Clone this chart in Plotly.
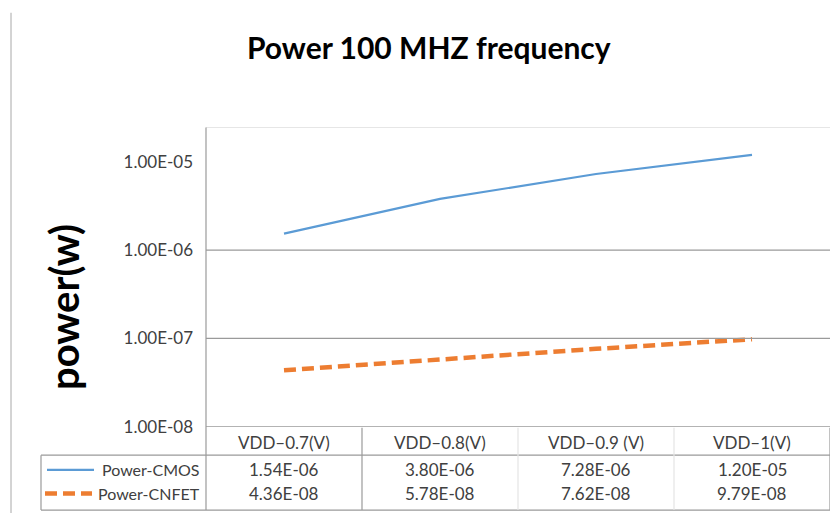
import plotly.graph_objects as go

categories = ["VDD–0.7(V)", "VDD–0.8(V)", "VDD–0.9 (V)", "VDD–1(V)"]
cmos_power = [1.54e-06, 3.80e-06, 7.28e-06, 1.20e-05]
cnfet_power = [4.36e-08, 5.78e-08, 7.62e-08, 9.79e-08]
series_names = ["Power-CMOS", "Power-CNFET"]
ytick_vals = [1e-8, 1e-7, 1e-6, 1e-5]
ytick_text = ["1.00E-08", "1.00E-07", "1.00E-06", "1.00E-05"]
title_text = "Power 100 MHZ frequency"
ytitle_text = "power(w)"

W, H = 835, 523
BLUE = "#5B9BD5"
ORANGE = "#ED7D31"
LINE = "#9a9a9a"
FAINT = "#e4e4e4"
TXT = "#404040"
FONT = "Lato, 'Open Sans', sans-serif"


def px(x):
    return x / W


def py(y):
    return (H - y) / H


fig = go.Figure()
fig.add_trace(go.Scatter(x=categories, y=cmos_power, mode="lines", name=series_names[0],
                         line=dict(color=BLUE, width=2.2)))
fig.add_trace(go.Scatter(x=categories, y=cnfet_power, mode="lines", name=series_names[1],
                         line=dict(color=ORANGE, width=4.5, dash="12px,6px")))

shapes = []
# outer left border of the chart area
shapes.append(dict(type="line", xref="paper", yref="paper", x0=px(11), x1=px(11), y0=py(13), y1=py(523),
                   line=dict(color="#a8a8a8", width=1)))
# plot area top border
shapes.append(dict(type="line", xref="paper", yref="paper", x0=px(206), x1=px(830), y0=py(130), y1=py(130),
                   line=dict(color="#e6e6e6", width=1)))
# gridlines
for v in [1e-7, 1e-6]:
    shapes.append(dict(type="line", xref="paper", yref="y", x0=px(206), x1=px(830), y0=v, y1=v,
                       line=dict(color=LINE, width=1.2)))
# table horizontal lines
shapes.append(dict(type="line", xref="paper", yref="y", x0=px(206), x1=px(830), y0=1e-8, y1=1e-8,
                   line=dict(color=LINE, width=1.2)))
for yy in [464, 520]:
    shapes.append(dict(type="line", xref="paper", yref="paper", x0=px(41), x1=px(830), y0=py(yy), y1=py(yy),
                       line=dict(color=LINE, width=1.2)))
# table verticals
shapes.append(dict(type="line", xref="paper", yref="paper", x0=px(41), x1=px(41), y0=py(464), y1=py(520),
                   line=dict(color=LINE, width=1.2)))
shapes.append(dict(type="line", xref="paper", yref="paper", x0=px(206), x1=px(206), y0=py(130), y1=py(520),
                   line=dict(color=LINE, width=1.2)))
n = len(categories)
for i in range(1, n + 1):
    strong = (i == 1 or i == n)
    shapes.append(dict(type="line", xref="x", yref="paper", x0=i - 0.5, x1=i - 0.5, y0=py(436), y1=py(520),
                       line=dict(color=LINE if strong else FAINT, width=1.2)))
# legend keys in table
shapes.append(dict(type="line", xref="paper", yref="paper", x0=px(47), x1=px(94), y0=py(479), y1=py(479),
                   line=dict(color=BLUE, width=2.2)))
shapes.append(dict(type="line", xref="paper", yref="paper", x0=px(45), x1=px(92), y0=py(503), y1=py(503),
                   line=dict(color=ORANGE, width=4.5, dash="12px,6px")))

TS = 17
ann = []
for i, c in enumerate(categories):
    ann.append(dict(x=i, xref="x", y=py(451), yref="paper", text=c, showarrow=False,
                    font=dict(family=FONT, size=TS, color=TXT), yanchor="middle"))
    ann.append(dict(x=i, xref="x", y=py(479), yref="paper", text=f"{cmos_power[i]:.2E}", showarrow=False,
                    font=dict(family=FONT, size=TS, color=TXT), yanchor="middle"))
    ann.append(dict(x=i, xref="x", y=py(503), yref="paper", text=f"{cnfet_power[i]:.2E}", showarrow=False,
                    font=dict(family=FONT, size=TS, color=TXT), yanchor="middle"))
for name, yy in zip(series_names, [479, 503]):
    ann.append(dict(x=px(202), xref="paper", y=py(yy), yref="paper", text=name, showarrow=False,
                    xanchor="right", yanchor="middle", font=dict(family=FONT, size=16, color=TXT)))
ann.append(dict(x=px(429), xref="paper", y=py(48), yref="paper", text=f"<b>{title_text}</b>", showarrow=False,
                xanchor="center", yanchor="middle", font=dict(family=FONT, size=30, color="#000000")))
ann.append(dict(x=px(64), xref="paper", y=py(313), yref="paper", text=f"<b>{ytitle_text}</b>", showarrow=False,
                textangle=-90, xanchor="center", yanchor="middle", font=dict(family=FONT, size=40, color="#000000")))

top_log = -8 + (435 - 130) / 90.0
fig.update_layout(
    width=W, height=H,
    margin=dict(l=0, r=0, t=0, b=0),
    paper_bgcolor="white", plot_bgcolor="white",
    showlegend=False,
    xaxis=dict(domain=[px(206), px(830)], range=[-0.5, n - 0.5], showticklabels=False,
               showgrid=False, zeroline=False, showline=False, ticks=""),
    yaxis=dict(type="log", domain=[py(435), py(130)], range=[-8, top_log],
               tickvals=ytick_vals, ticktext=ytick_text, showgrid=False, zeroline=False,
               showline=False, ticks="", ticklabelstandoff=12,
               tickfont=dict(family=FONT, size=TS, color=TXT)),
    shapes=shapes,
    annotations=ann,
)

fig.write_html("out.html", config={"displayModeBar": False},
               post_script="document.body.style.margin='0';")
